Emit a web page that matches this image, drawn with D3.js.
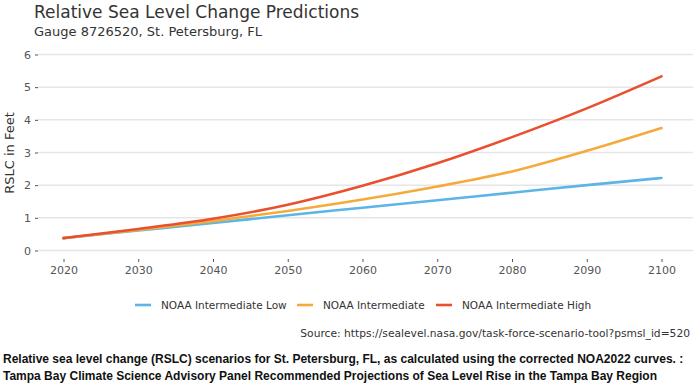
<!DOCTYPE html>
<html><head><meta charset="utf-8">
<script src="https://d3js.org/d3.v7.min.js"></script>
<style>body{margin:0;background:#fff}svg{display:block}</style>
</head><body>
<script>
const years = [2020, 2030, 2040, 2050, 2060, 2070, 2080, 2090, 2100];
const intermediateLow = [0.38, 0.61, 0.84, 1.08, 1.31, 1.54, 1.77, 2.00, 2.22];
const intermediate = [0.38, 0.63, 0.90, 1.21, 1.56, 1.96, 2.42, 3.05, 3.75];
const intermediateHigh = [0.38, 0.66, 0.97, 1.40, 1.98, 2.67, 3.47, 4.35, 5.33];
const seriesNames = ["NOAA Intermediate Low", "NOAA Intermediate", "NOAA Intermediate High"];
const seriesColors = ["#5cb5e6", "#f5ab3c", "#e8502e"];
const yTicks = [0, 1, 2, 3, 4, 5, 6];

const W = 696, H = 389;
const svg = d3.select("body").append("svg").attr("width", W).attr("height", H);
const x = d3.scaleLinear().domain([2020, 2100]).range([63.5, 661.5]);
const y = d3.scaleLinear().domain([0, 6]).range([250.5, 54.5]);

// gridlines
svg.append("g").selectAll("line").data(yTicks).join("line")
  .attr("x1", 38).attr("x2", 693)
  .attr("y1", d => y(d)).attr("y2", d => y(d))
  .attr("stroke", "#e6e6ea").attr("stroke-width", 1.5);

// y axis
const yAxis = svg.append("g").attr("transform", "translate(38,0)")
  .call(d3.axisLeft(y).tickValues(yTicks).tickSize(3).tickPadding(4).tickFormat(d3.format("d")));
yAxis.select(".domain").remove();
yAxis.selectAll("line").attr("stroke", "#555");
yAxis.selectAll("text").attr("fill", "#555").attr("font-family", "DejaVu Sans").attr("font-size", 11);

// x axis
const xAxis = svg.append("g").attr("transform", "translate(0,259)")
  .call(d3.axisBottom(x).tickValues(years).tickSize(3).tickPadding(4).tickFormat(d3.format("d")));
xAxis.select(".domain").remove();
xAxis.selectAll("line").attr("stroke", "#555");
xAxis.selectAll("text").attr("fill", "#555").attr("font-family", "DejaVu Sans").attr("font-size", 11);

// y label
svg.append("text").attr("transform", "translate(14,153) rotate(-90)")
  .attr("text-anchor", "middle").attr("font-family", "DejaVu Sans").attr("font-size", 13)
  .attr("fill", "#333").text("RSLC in Feet");

// lines
const allSeries = [intermediateLow, intermediate, intermediateHigh];
const line = d3.line().x((d, i) => x(years[i])).y(d => y(d)).curve(d3.curveMonotoneX);
allSeries.forEach((s, k) => {
  svg.append("path").datum(s).attr("d", line).attr("fill", "none")
    .attr("stroke", seriesColors[k]).attr("stroke-width", 2.6).attr("stroke-linecap", "round");
});

// titles
svg.append("text").attr("x", 34).attr("y", 18).attr("font-family", "DejaVu Sans")
  .attr("font-size", 17).attr("fill", "#333").text("Relative Sea Level Change Predictions");
svg.append("text").attr("x", 34).attr("y", 36).attr("font-family", "DejaVu Sans")
  .attr("font-size", 13).attr("fill", "#333").text("Gauge 8726520, St. Petersburg, FL");

// legend
const legendX = [135, 297, 436];
seriesNames.forEach((n, k) => {
  const g = svg.append("g").attr("transform", `translate(${legendX[k]},305)`);
  g.append("line").attr("x1", 0).attr("x2", 16).attr("y1", 0).attr("y2", 0)
    .attr("stroke", seriesColors[k]).attr("stroke-width", 2.6);
  g.append("text").attr("x", 26).attr("y", 4).attr("font-family", "DejaVu Sans")
    .attr("font-size", 10.5).attr("fill", "#333").text(n);
});

// source
svg.append("text").attr("x", 690).attr("y", 337).attr("text-anchor", "end")
  .attr("font-family", "DejaVu Sans").attr("font-size", 10.7).attr("fill", "#333")
  .text("Source: https://sealevel.nasa.gov/task-force-scenario-tool?psmsl_id=520");

// caption
svg.append("text").attr("x", 3).attr("y", 363).attr("font-family", "Liberation Sans, Arial")
  .attr("font-weight", "bold").attr("font-size", 12).attr("fill", "#111")
  .text("Relative sea level change (RSLC) scenarios for St. Petersburg, FL, as calculated using the corrected NOA2022 curves. :");
svg.append("text").attr("x", 3).attr("y", 380).attr("font-family", "Liberation Sans, Arial")
  .attr("font-weight", "bold").attr("font-size", 12).attr("fill", "#111")
  .text("Tampa Bay Climate Science Advisory Panel Recommended Projections of Sea Level Rise in the Tampa Bay Region");
</script>
</body></html>
